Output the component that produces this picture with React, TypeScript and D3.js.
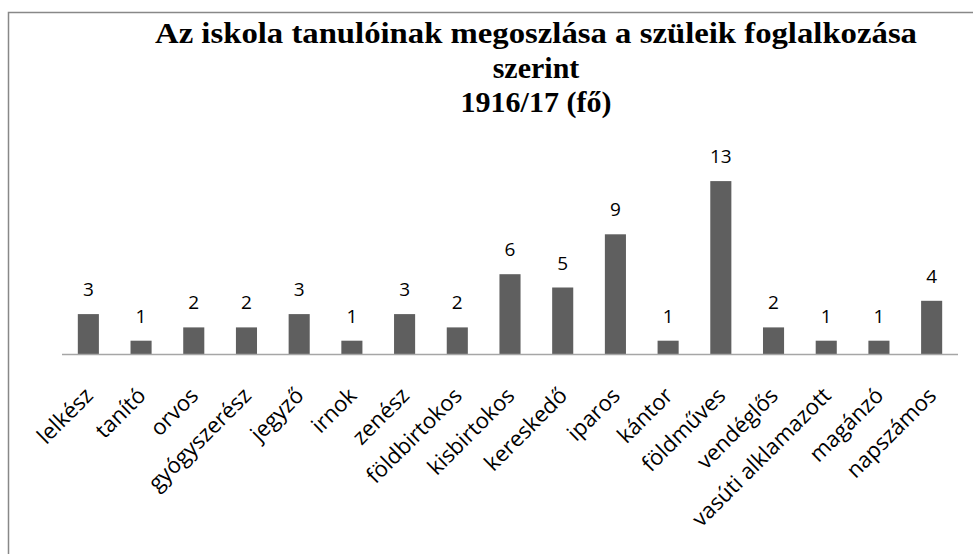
import React from "react";
import * as d3 from "d3";

const categories = [
  "lelkész", "tanító", "orvos", "gyógyszerész", "jegyző", "irnok", "zenész",
  "földbirtokos", "kisbirtokos", "kereskedő", "iparos", "kántor", "földműves",
  "vendéglős", "vasúti alklamazott", "magánzó", "napszámos",
];
const values = [3, 1, 2, 2, 3, 1, 3, 2, 6, 5, 9, 1, 13, 2, 1, 1, 4];
const titleLines = [
  "Az iskola tanulóinak megoszlása a szüleik foglalkozása",
  "szerint",
  "1916/17 (fő)",
];

const W = 973;
const H = 554;

export default function App() {
  const x = d3
    .scaleBand<string>()
    .domain(categories)
    .range([62, 958])
    .paddingInner(0.6)
    .paddingOuter(0.3);
  const y = d3.scaleLinear().domain([0, 14]).range([354, 354 - 14 * 13.3]);
  const titleY = [43, 78, 112];
  const sans = "'Open Sans', 'DejaVu Sans', sans-serif";

  return (
    <svg
      width={W}
      height={H}
      style={{ position: "absolute", left: 0, top: 0, background: "#fff" }}
    >
      <rect x={8.5} y={12.5} width={1000} height={600} fill="#fff" stroke="#888" strokeWidth={1.5} />
      {titleLines.map((t, i) => (
        <text
          key={i}
          x={536}
          y={titleY[i]}
          textAnchor="middle"
          fontFamily="'Liberation Serif', 'Times New Roman', serif"
          fontWeight="bold"
          fontSize={30}
          fill="#000"
          {...(i === 0 ? { textLength: 762, lengthAdjust: "spacingAndGlyphs" } : {})}
        >
          {t}
        </text>
      ))}
      {categories.map((c, i) => {
        const bx = x(c)!;
        const bw = x.bandwidth();
        const v = values[i];
        return (
          <g key={c}>
            <rect x={bx} y={y(v)} width={bw} height={y(0) - y(v)} fill="#5f5f5f" />
            <text
              x={bx + bw / 2}
              y={y(v) - 18}
              textAnchor="middle"
              fontFamily={sans}
              fontSize={19}
              fill="#000"
            >
              {v}
            </text>
          </g>
        );
      })}
      <line x1={62} x2={958} y1={354.5} y2={354.5} stroke="#a6a6a6" strokeWidth={1.5} />
      {categories.map((c) => {
        const cx = x(c)! + x.bandwidth() / 2;
        return (
          <text
            key={"l" + c}
            transform={`translate(${cx + 6},${397}) rotate(-45)`}
            textAnchor="end"
            fontFamily={sans}
            fontSize={22}
            fill="#000"
          >
            {c}
          </text>
        );
      })}
    </svg>
  );
}
